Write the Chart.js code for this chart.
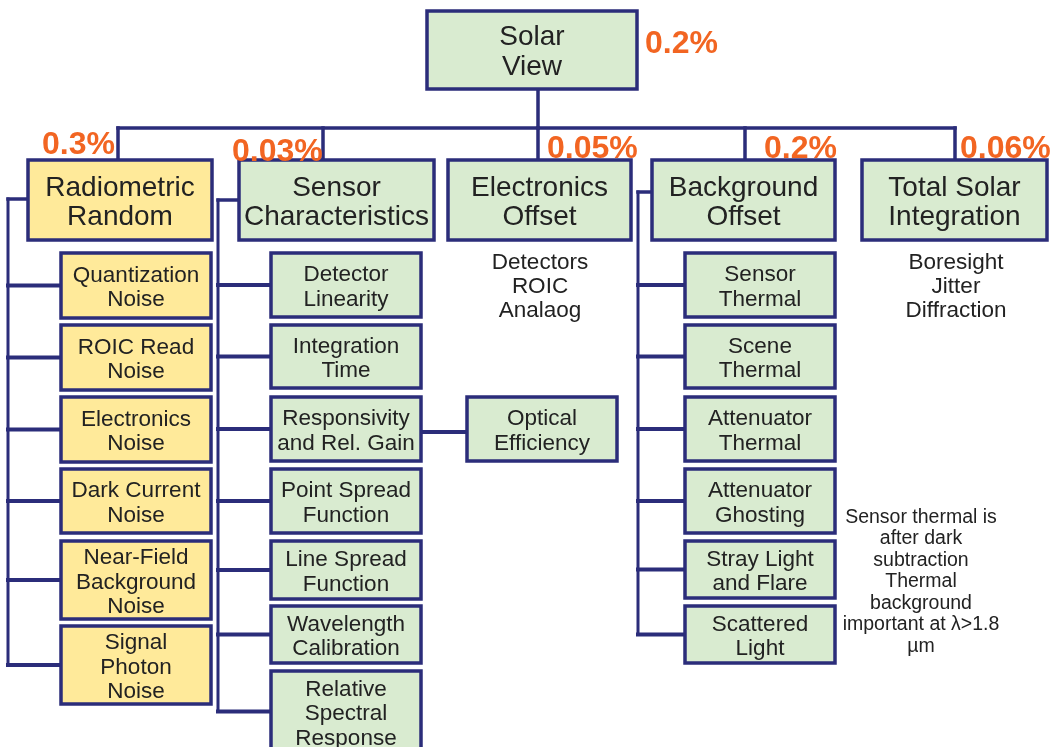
<!DOCTYPE html>
<html>
<head>
<meta charset="utf-8">
<script src="https://cdn.jsdelivr.net/npm/chart.js@4.4.0/dist/chart.umd.min.js"></script>
<style>
html,body{margin:0;padding:0;background:#fff;}
#wrap{width:1051px;height:747px;}
</style>
</head>
<body>
<div id="wrap"><canvas id="c" width="1051" height="747"></canvas></div>
<script>
// ---------------- DATA ----------------
const rootLabel = ['Solar', 'View'];
const rootShare = '0.2%';
const branchLabels = [['Radiometric', 'Random'], ['Sensor', 'Characteristics'], ['Electronics', 'Offset'], ['Background', 'Offset'], ['Total Solar', 'Integration']];
const branchShares = ['0.3%', '0.03%', '0.05%', '0.2%', '0.06%'];
const branchKinds = ['random', 'systematic', 'systematic', 'systematic', 'systematic'];
const electronicsNote = ['Detectors', 'ROIC', 'Analaog'];
const totalSolarNote = ['Boresight', 'Jitter', 'Diffraction'];
const radiometricItems = [['Quantization', 'Noise'], ['ROIC Read', 'Noise'], ['Electronics', 'Noise'], ['Dark Current', 'Noise'], ['Near-Field', 'Background', 'Noise'], ['Signal', 'Photon', 'Noise']];
const sensorItems = [['Detector', 'Linearity'], ['Integration', 'Time'], ['Responsivity', 'and Rel. Gain'], ['Point Spread', 'Function'], ['Line Spread', 'Function'], ['Wavelength', 'Calibration'], ['Relative', 'Spectral', 'Response']];
const responsivityItems = [['Optical', 'Efficiency']];
const backgroundItems = [['Sensor', 'Thermal'], ['Scene', 'Thermal'], ['Attenuator', 'Thermal'], ['Attenuator', 'Ghosting'], ['Stray Light', 'and Flare'], ['Scattered', 'Light']];
const backgroundNote = ['Sensor thermal is', 'after dark', 'subtraction', 'Thermal', 'background', 'important at \u03bb>1.8', '\u00b5m'];

// ---------------- LAYOUT (diagram units) ----------------
const L = {
  root: {x0: 427, x1: 637, y0: 11, y1: 89, dropX: 538, shareX: 645, shareY: 42},
  barY: 128,
  branchX: [[28, 212], [239, 434], [448, 631], [652, 835], [862, 1047]],
  branchY: [160, 240],
  dropX: [118, 323, 538, 745, 955],
  shareX: [42, 232, 547, 764, 960],
  shareY: [143, 150, 147, 147, 147],
  radiometric: {x: [61, 211], tops: [253, 325, 397, 469, 541, 626], bots: [318, 390, 462, 533, 619, 704], spineX: 8, startY: 199},
  sensor: {x: [271, 421], tops: [253, 325, 397, 469, 541, 606, 671], bots: [317, 388, 461, 533, 599, 663, 752], spineX: 218, startY: 200},
  background: {x: [685, 835], tops: [253, 325, 397, 469, 541, 606], bots: [317, 388, 461, 533, 598, 663], spineX: 638, startY: 192},
  optical: {x: [467, 617], tops: [397], bots: [461]},
  notes: {elecX: 540, totX: 956, y0: 260, dy: 24, bgX: 921, bgY0: 515, bgDy: 21.5},
  textNudge: 2.5
};

const NAVY = '#2b2d7a';
const GREEN = '#d9ebd0';
const YELLOW = '#ffea9a';
const ORANGE = '#f26522';
const TEXT = '#222222';
const FONT = '"Liberation Sans", Arial, Helvetica, sans-serif';

// ---------------- BUILD CONNECTORS ----------------
const segments = [];
function seg(a, b, w) { segments.push({pts: [a, b], w: w || 3.5}); }
seg({x: L.root.dropX, y: L.root.y1}, {x: L.root.dropX, y: L.barY});
seg({x: L.dropX[0], y: L.barY}, {x: L.dropX[4], y: L.barY});
L.dropX.forEach(x => seg({x: x, y: L.barY}, {x: x, y: L.branchY[0]}));

function column(group, parentLeft) {
  const centers = group.tops.map((t, i) => (t + group.bots[i]) / 2);
  const lastY = centers[centers.length - 1];
  seg({x: parentLeft, y: group.startY}, {x: group.spineX, y: group.startY});
  seg({x: group.spineX, y: group.startY}, {x: group.spineX, y: lastY}, 3);
  centers.forEach(cy => seg({x: group.spineX, y: cy}, {x: group.x[0], y: cy}, 4));
  return centers;
}
column(L.radiometric, L.branchX[0][0]);
const sensorCenters = column(L.sensor, L.branchX[1][0]);
column(L.background, L.branchX[3][0]);
seg({x: L.sensor.x[1], y: sensorCenters[2] + 3}, {x: L.optical.x[0], y: sensorCenters[2] + 3}, 4);

// ---------------- BUILD BOXES ----------------
const boxes = [];
boxes.push({x0: L.root.x0, x1: L.root.x1, y0: L.root.y0, y1: L.root.y1, lines: rootLabel, fill: GREEN, size: 28, lh: 30});
branchLabels.forEach((lab, i) => boxes.push({x0: L.branchX[i][0], x1: L.branchX[i][1], y0: L.branchY[0], y1: L.branchY[1], lines: lab, fill: branchKinds[i] === 'random' ? YELLOW : GREEN, size: 28, lh: 29}));
function addItems(items, g, fill) {
  items.forEach((lab, i) => {
    boxes.push({x0: g.x[0], x1: g.x[1], y0: g.tops[i], y1: g.bots[i], lines: lab, fill: fill, size: 22.5, lh: 24.5});
  });
}
addItems(radiometricItems, L.radiometric, YELLOW);
addItems(sensorItems, L.sensor, GREEN);
addItems(responsivityItems, L.optical, GREEN);
addItems(backgroundItems, L.background, GREEN);

const texts = [];
texts.push({x: L.root.shareX, y: L.root.shareY, t: rootShare, align: 'left', bold: true, size: 32, color: ORANGE});
branchShares.forEach((s, i) => texts.push({x: L.shareX[i], y: L.shareY[i], t: s, align: 'left', bold: true, size: 32, color: ORANGE}));
electronicsNote.forEach((s, i) => texts.push({x: L.notes.elecX, y: L.notes.y0 + i * L.notes.dy, t: s, align: 'center', size: 22.5, color: TEXT}));
totalSolarNote.forEach((s, i) => texts.push({x: L.notes.totX, y: L.notes.y0 + i * L.notes.dy, t: s, align: 'center', size: 22.5, color: TEXT}));
backgroundNote.forEach((s, i) => texts.push({x: L.notes.bgX, y: L.notes.bgY0 + i * L.notes.bgDy, t: s, align: 'center', size: 19.5, color: TEXT}));

// ---------------- CHART ----------------
const datasets = segments.map(s => ({
  type: 'scatter', data: s.pts, showLine: true, borderColor: NAVY, borderWidth: s.w,
  pointRadius: 0, fill: false, borderCapStyle: 'square', order: 2
}));

const diagramPlugin = {
  id: 'diagram',
  afterDatasetsDraw(chart) {
    const ctx = chart.ctx, xs = chart.scales.x, ys = chart.scales.y;
    const nudge = L.textNudge;
    ctx.save();
    boxes.forEach(b => {
      const px0 = xs.getPixelForValue(b.x0), px1 = xs.getPixelForValue(b.x1);
      const py0 = ys.getPixelForValue(b.y0), py1 = ys.getPixelForValue(b.y1);
      ctx.fillStyle = b.fill;
      ctx.fillRect(px0, py0, px1 - px0, py1 - py0);
      ctx.strokeStyle = NAVY;
      ctx.lineWidth = 3.5;
      ctx.strokeRect(px0, py0, px1 - px0, py1 - py0);
      ctx.fillStyle = TEXT;
      ctx.font = b.size + 'px ' + FONT;
      ctx.textAlign = 'center';
      ctx.textBaseline = 'middle';
      const cy = (b.y0 + b.y1) / 2 + nudge;
      const n = b.lines.length;
      b.lines.forEach((t, i) => {
        const vy = cy + (i - (n - 1) / 2) * b.lh;
        ctx.fillText(t, (px0 + px1) / 2, ys.getPixelForValue(vy));
      });
    });
    texts.forEach(t => {
      ctx.fillStyle = t.color;
      ctx.font = (t.bold ? 'bold ' : '') + t.size + 'px ' + FONT;
      ctx.textAlign = t.align;
      ctx.textBaseline = 'middle';
      ctx.fillText(t.t, xs.getPixelForValue(t.x), ys.getPixelForValue(t.y + nudge));
    });
    ctx.restore();
  }
};

new Chart(document.getElementById('c'), {
  type: 'scatter',
  data: {datasets: datasets},
  options: {
    responsive: false,
    animation: false,
    layout: {padding: 0},
    plugins: {legend: {display: false}, tooltip: {enabled: false}, title: {display: false}},
    scales: {
      x: {type: 'linear', min: 0, max: 1051, display: false},
      y: {type: 'linear', min: 0, max: 747, reverse: true, display: false}
    },
    clip: false
  },
  plugins: [diagramPlugin]
});
</script>
</body>
</html>
